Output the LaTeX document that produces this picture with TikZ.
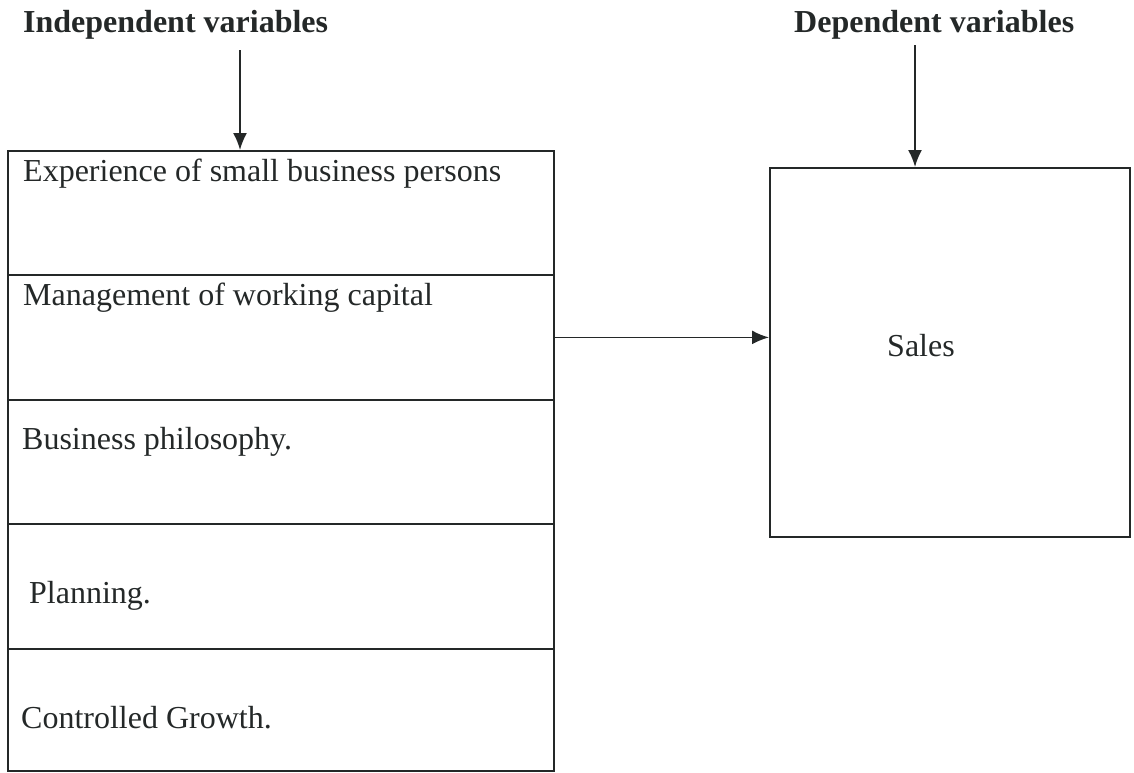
\documentclass[tikz,border=0pt]{standalone}
\usepackage{fontspec}
\setmainfont{Liberation Serif}
\usetikzlibrary{arrows.meta,calc}
\definecolor{ink}{RGB}{36,40,40}
\begin{document}
\begin{tikzpicture}[x=1pt,y=1pt,
  font=\fontsize{32}{38}\selectfont,
  rowbox/.style={draw=ink,line width=1.8pt,rectangle,anchor=north west,inner sep=0pt,minimum width=546pt},
  label/.style={anchor=base west,inner sep=0pt,text=ink},
  head/.style={anchor=base west,inner sep=0pt,text=ink,font=\fontsize{32}{38}\selectfont\bfseries},
  conn/.style={draw=ink,line width=1.8pt,-{Latex[length=17pt,width=14pt]}}]
\useasboundingbox (0,0) rectangle (1134,-772);
% left column of independent variables
\node[rowbox,minimum height=124pt] (r1) at (7,-150) {};
\node[rowbox,minimum height=125pt] (r2) at (7,-274) {};
\node[rowbox,minimum height=124pt] (r3) at (7,-399) {};
\node[rowbox,minimum height=125pt] (r4) at (7,-523) {};
\node[rowbox,minimum height=122pt] (r5) at (7,-648) {};
\node[label] (t1) at (23,-181) {Experience of small business persons};
\node[label] (t2) at (23,-305) {Management of working capital};
\node[label] (t3) at (22,-449) {Business philosophy.};
\node[label] (t4) at (29,-603) {Planning.};
\node[label] (t5) at (21,-728) {Controlled Growth.};
% right box
\node[draw=ink,line width=1.8pt,rectangle,anchor=north west,inner sep=0pt,
      minimum width=360pt,minimum height=369pt] (sales) at (769,-167) {};
\node[label,anchor=base] (st) at (921,-356) {Sales};
% headers
\node[head] (indep) at (23,-32) {Independent variables};
\node[head] (dep) at (794,-32) {Dependent variables};
\coordinate (ia) at (240,-50);
\coordinate (da) at (915,-45);
\draw[conn] (ia) -- (ia |- r1.north);
\draw[conn] (da) -- (da |- sales.north);
\draw[conn] (r2.east) -- (r2.east -| sales.west);
\end{tikzpicture}
\end{document}
